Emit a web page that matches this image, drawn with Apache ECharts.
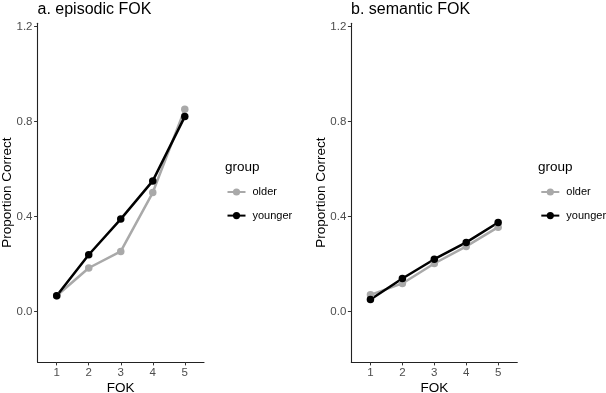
<!DOCTYPE html>
<html>
<head>
<meta charset="utf-8">
<script src="https://cdn.jsdelivr.net/npm/echarts@6/dist/echarts.min.js"></script>
<style>
html,body{margin:0;padding:0;background:#fff;}
#chart{width:606px;height:393px;}
</style>
</head>
<body>
<div id="chart"></div>
<script>
// ---- data ----
const fokLevels = [1, 2, 3, 4, 5];
const yTicks = [0, 0.4, 0.8, 1.2];
const panelTitles = ['a. episodic FOK', 'b. semantic FOK'];
const groupNames = ['older', 'younger'];
const episodicOlder = [0.066, 0.183, 0.253, 0.501, 0.852];
const episodicYounger = [0.066, 0.239, 0.389, 0.550, 0.821];
const semanticOlder = [0.070, 0.118, 0.202, 0.274, 0.355];
const semanticYounger = [0.050, 0.139, 0.220, 0.291, 0.375];

const FONT = '"Liberation Sans", Arial, Helvetica, sans-serif';
const colors = {older: '#a9a9a9', younger: '#000000'};

function toPairs(vals) { return fokLevels.map((x, i) => [x, vals[i]]); }

const grids = [
  {left: 37.5, width: 166.5, top: 23.3, bottom: 31, containLabel: false, outerBoundsMode: 'none'},
  {left: 351.3, width: 166, top: 23.3, bottom: 31, containLabel: false, outerBoundsMode: 'none'}
];

function xAxis(i) {
  return {
    type: 'value', gridIndex: i, min: 0.4, max: 5.6,
    name: 'FOK', nameLocation: 'middle', nameGap: 19.5, nameMoveOverlap: false,
    nameTextStyle: {fontFamily: FONT, fontSize: 13.5, color: '#000'},
    axisLine: {show: true, onZero: false, lineStyle: {color: '#222', width: 1.1}},
    axisTick: {show: true, length: 3.4, lineStyle: {color: '#333', width: 1}, customValues: fokLevels},
    axisLabel: {fontFamily: FONT, fontSize: 11.5, color: '#4d4d4d', margin: 4.5, customValues: fokLevels},
    splitLine: {show: false}
  };
}
function yAxis(i) {
  return {
    type: 'value', gridIndex: i, min: -0.213, max: 1.214,
    name: 'Proportion Correct', nameLocation: 'middle', nameGap: 23.5, nameMoveOverlap: false,
    nameTextStyle: {fontFamily: FONT, fontSize: 13.5, color: '#000'},
    axisLine: {show: true, onZero: false, lineStyle: {color: '#222', width: 1.1}},
    axisTick: {show: true, length: 3.4, lineStyle: {color: '#333', width: 1}, customValues: yTicks},
    axisLabel: {fontFamily: FONT, fontSize: 11.5, color: '#4d4d4d', margin: 5,
      customValues: yTicks, formatter: v => Number(v).toFixed(1)},
    splitLine: {show: false}
  };
}
function lineSeries(name, i, vals) {
  return {
    name: name, type: 'line', xAxisIndex: i, yAxisIndex: i,
    data: toPairs(vals), symbol: 'circle', symbolSize: 7.5,
    lineStyle: {color: colors[name], width: 2.5},
    itemStyle: {color: colors[name]},
    emphasis: {disabled: true}, animation: false
  };
}
function legend(left) {
  return {
    orient: 'vertical', left: left, top: 186.5, padding: 0,
    itemWidth: 18, itemHeight: 9, itemGap: 12.6,
    data: groupNames,
    textStyle: {fontFamily: FONT, fontSize: 11, color: '#000', padding: [0, 0, 0, 2]},
    selectedMode: false
  };
}

const chart = echarts.init(document.getElementById('chart'), null, {renderer: 'canvas'});
chart.setOption({
  animation: false,
  backgroundColor: '#fff',
  title: [
    {text: panelTitles[0], left: 37.5, top: 1.5, padding: 0,
      textStyle: {fontFamily: FONT, fontSize: 16, fontWeight: 'normal', color: '#000'}},
    {text: panelTitles[1], left: 351, top: 1.5, padding: 0,
      textStyle: {fontFamily: FONT, fontSize: 16, fontWeight: 'normal', color: '#000'}}
  ],
  grid: grids,
  xAxis: [xAxis(0), xAxis(1)],
  yAxis: [yAxis(0), yAxis(1)],
  legend: [legend(226.5), legend(540.3)],
  graphic: [
    {type: 'text', left: 225, top: 160.5, style: {text: 'group', fontFamily: FONT, fontSize: 13.5, fill: '#000'}},
    {type: 'text', left: 538, top: 160.5, style: {text: 'group', fontFamily: FONT, fontSize: 13.5, fill: '#000'}}
  ],
  series: [
    lineSeries('older', 0, episodicOlder),
    lineSeries('younger', 0, episodicYounger),
    lineSeries('older', 1, semanticOlder),
    lineSeries('younger', 1, semanticYounger)
  ]
});
</script>
</body>
</html>
